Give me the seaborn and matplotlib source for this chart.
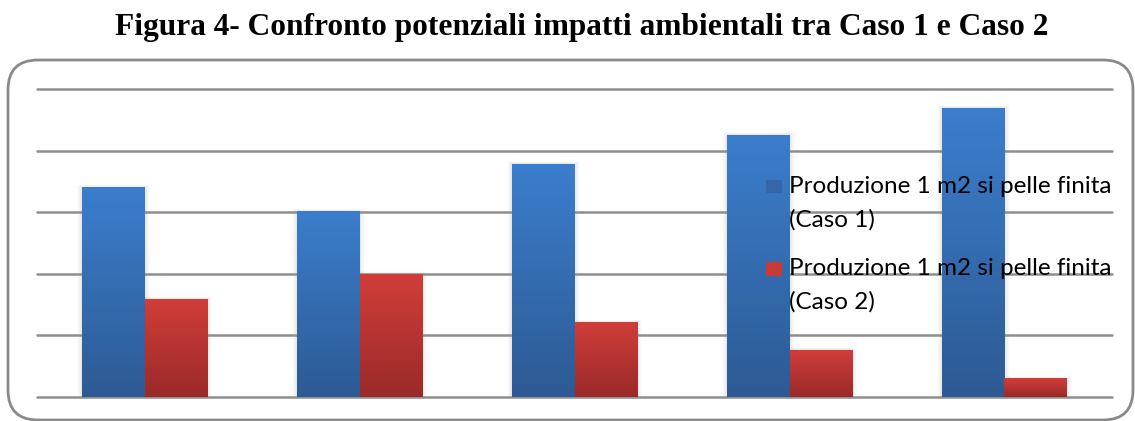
import numpy as np
import pandas as pd
import matplotlib
matplotlib.use("Agg")
import matplotlib.pyplot as plt
import seaborn as sns
from matplotlib.patches import FancyBboxPatch, Patch, Rectangle
from matplotlib.transforms import IdentityTransform
from matplotlib.colors import LinearSegmentedColormap
from matplotlib.legend_handler import HandlerPatch

# ---- data -------------------------------------------------------------
title = "Figura 4- Confronto potenziali impatti ambientali tra Caso 1 e Caso 2"
categories = ["Impatto A", "Impatto B", "Impatto C", "Impatto D", "Impatto E"]
series = [
    "Produzione 1 m2 si pelle finita (Caso 1)",
    "Produzione 1 m2 si pelle finita (Caso 2)",
]
legend_labels = [
    "Produzione 1 m2 si pelle finita\n(Caso 1)",
    "Produzione 1 m2 si pelle finita\n(Caso 2)",
]
caso1 = [3.41, 3.02, 3.79, 4.26, 4.70]
caso2 = [1.59, 2.00, 1.21, 0.76, 0.30]

df = pd.DataFrame({
    "categoria": categories * 2,
    "serie": [series[0]] * len(categories) + [series[1]] * len(categories),
    "valore": caso1 + caso2,
})

# ---- style ------------------------------------------------------------
sns.set_theme(style="white")
plt.rcParams["font.family"] = ["Lato", "DejaVu Sans"]

blue_top, blue_bot = "#3B7ECD", "#2D5A93"
red_top, red_bot = "#D13D39", "#9A2A29"
blue_key, red_key = "#3566A6", "#C83A36"
grid_col = "#8e8e8e"

W, H = 1135, 421
fig = plt.figure(figsize=(W / 100, H / 100), dpi=100)
fig.patch.set_facecolor("white")

# rounded frame around the chart area
frame = FancyBboxPatch((8, 1), 1125, 360,
                       boxstyle="round,pad=0,rounding_size=30",
                       transform=IdentityTransform(), fill=False,
                       edgecolor="#8a8a8a", linewidth=2.0)
fig.patches.append(frame)

fig.text(582 / W, 1 - 35 / H, title, ha="center", va="baseline",
         fontsize=22.6, fontweight="bold", family="Liberation Serif",
         color="black")

ax = fig.add_axes([37 / W, 1 - 396.6 / H, 1075 / W, 307.1 / H])

sns.barplot(data=df, x="categoria", y="valore", hue="serie",
            palette=[blue_top, red_top], saturation=1, width=0.577, gap=0,
            linewidth=0, edgecolor="none",
            legend=False, ax=ax, zorder=3)

# vertical gradient fill and soft shadow (under the grid) on every bar
grad = np.linspace(0, 1, 256).reshape(-1, 1)
cmaps = [LinearSegmentedColormap.from_list("b", [blue_bot, blue_top]),
         LinearSegmentedColormap.from_list("r", [red_bot, red_top])]
px_x = 5 / 1075
px_y = 5 / 307.1
for cont, cmap in zip(ax.containers, cmaps):
    for bar in cont:
        bar.set_edgecolor("none")
        bar.set_linewidth(0)
        x0, y0 = bar.get_x(), bar.get_y()
        w, h = bar.get_width(), bar.get_height()
        for k, a in ((5, 0.012), (4, 0.015), (3, 0.018), (2, 0.022), (1, 0.025)):
            ax.add_patch(Rectangle((x0 - k * px_x, y0), w + 2 * k * px_x,
                                   h + k * px_y * 0.5, facecolor="black",
                                   edgecolor="none", linewidth=0,
                                   alpha=a, zorder=0.2))
        im = ax.imshow(grad, cmap=cmap, origin="lower", aspect="auto",
                       extent=[x0, x0 + w, y0, y0 + h], zorder=3.1)
        im.set_clip_path(bar)

ax.set_xlim(-0.5, len(categories) - 0.5)
ax.set_ylim(0, 5)
ax.set_yticks(range(6))
ax.yaxis.grid(True, color=grid_col, linewidth=1.8)
ax.xaxis.grid(False)
ax.set_axisbelow(True)
for gl in ax.get_ygridlines():
    gl.set_clip_on(False)
ax.tick_params(left=False, bottom=False, labelleft=False, labelbottom=False)
ax.set_xlabel("")
ax.set_ylabel("")
for s in ax.spines.values():
    s.set_visible(False)
ax.patch.set_alpha(0)

# legend: square keys, two-line labels
LEG_FS = 17.5


def key_patch(legend, orig_handle, xdescent, ydescent, width, height, fontsize):
    side_h = 10.0
    return Rectangle((-xdescent, -side_h / 2), width, side_h)


handles = [Patch(facecolor=blue_key, edgecolor="none"),
           Patch(facecolor=red_key, edgecolor="none")]
leg = ax.legend(handles, legend_labels, loc="upper left",
                bbox_to_anchor=(766 / W, 1 - 176 / H),
                bbox_transform=fig.transFigure, frameon=False,
                fontsize=LEG_FS, handlelength=0.66, handleheight=0.7,
                handletextpad=0.29, labelspacing=1.15, borderpad=0,
                borderaxespad=0,
                handler_map={Patch: HandlerPatch(patch_func=key_patch)})
for t in leg.get_texts():
    t.set_linespacing(1.67)
    t.set_color("black")
leg.set_zorder(10)

# put each key beside the first line of its label
fig.canvas.draw()
rend = fig.canvas.get_renderer()
for key, txt in zip(leg.legend_handles, leg.get_texts()):
    tb = txt.get_window_extent(rend)
    kb = key.get_window_extent(rend)
    want = tb.y1 - 10.5
    cur = 0.5 * (kb.y0 + kb.y1)
    key.set_y(key.get_y() + (want - cur) * 72 / fig.dpi)

fig.savefig("out.png", dpi=100)
